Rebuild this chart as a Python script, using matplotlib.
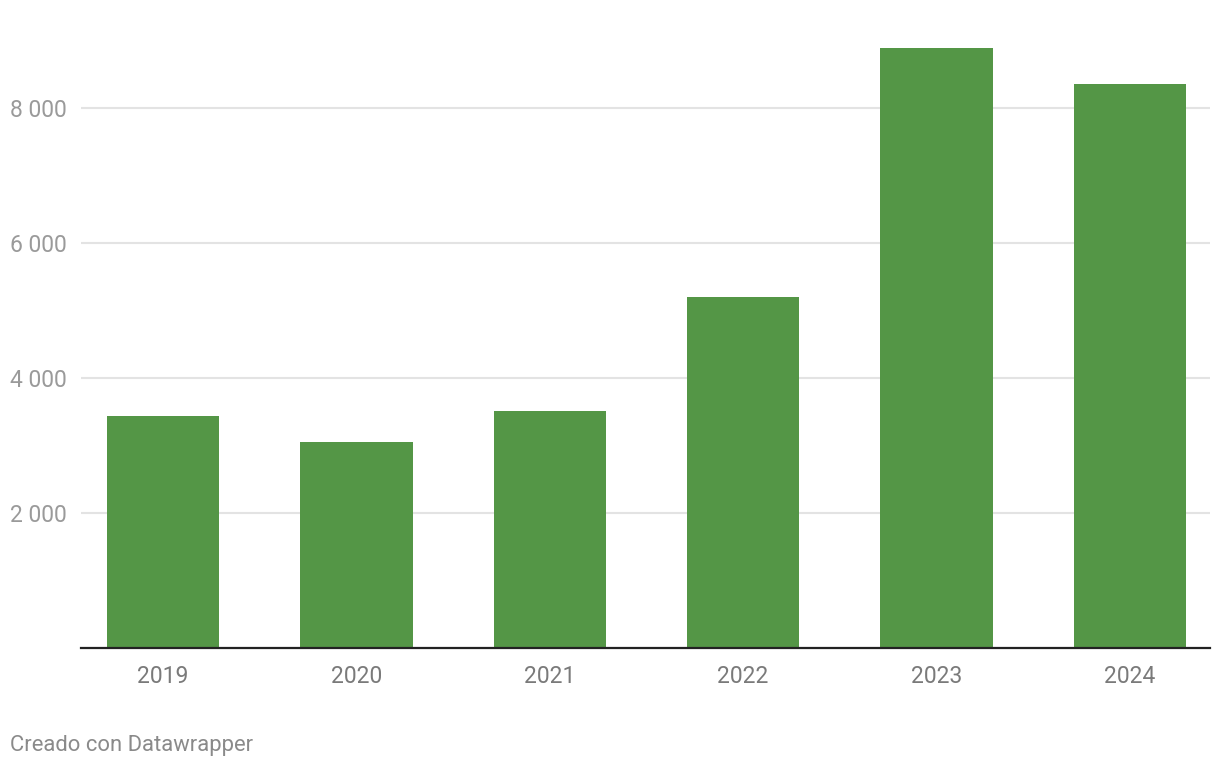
import matplotlib.pyplot as plt

years = ["2019", "2020", "2021", "2022", "2023", "2024"]
values = [3437, 3052, 3511, 5200, 8889, 8356]
y_ticks = [2000, 4000, 6000, 8000]
y_labels = ["2 000", "4 000", "6 000", "8 000"]

plt.rcParams['font.family'] = ['Roboto', 'DejaVu Sans']

fig = plt.figure(figsize=(12.2, 7.7), dpi=100)
ax = fig.add_axes([81 / 1220, 122 / 770, (1210 - 81) / 1220, 608 / 770])

x = list(range(len(years)))
ax.bar(x, values, width=0.582, color="#549646", zorder=3)

ax.set_xlim(-0.425, 5.415)
ax.set_ylim(0, 9007)

# grid
ax.set_yticks(y_ticks)
ax.set_yticklabels(y_labels, color="#9a9a9a", fontsize=16.5)
ax.yaxis.grid(True, color="#e3e3e3", linewidth=1.5, zorder=0)
ax.tick_params(axis="y", length=0, pad=10)

ax.set_xticks(x)
ax.set_xticklabels(years, color="#7a7a7a", fontsize=16.5)
ax.tick_params(axis="x", length=0, pad=12)

for s in ["top", "right", "left"]:
    ax.spines[s].set_visible(False)
ax.spines["bottom"].set_color("#222222")
ax.spines["bottom"].set_linewidth(1.6)
ax.spines["bottom"].set_zorder(4)

fig.text(10 / 1220, 1 - 746 / 770, "Creado con Datawrapper", color="#8a8a8a",
         fontsize=15.8, va="center", ha="left")

fig.savefig("out.png", dpi=100)
